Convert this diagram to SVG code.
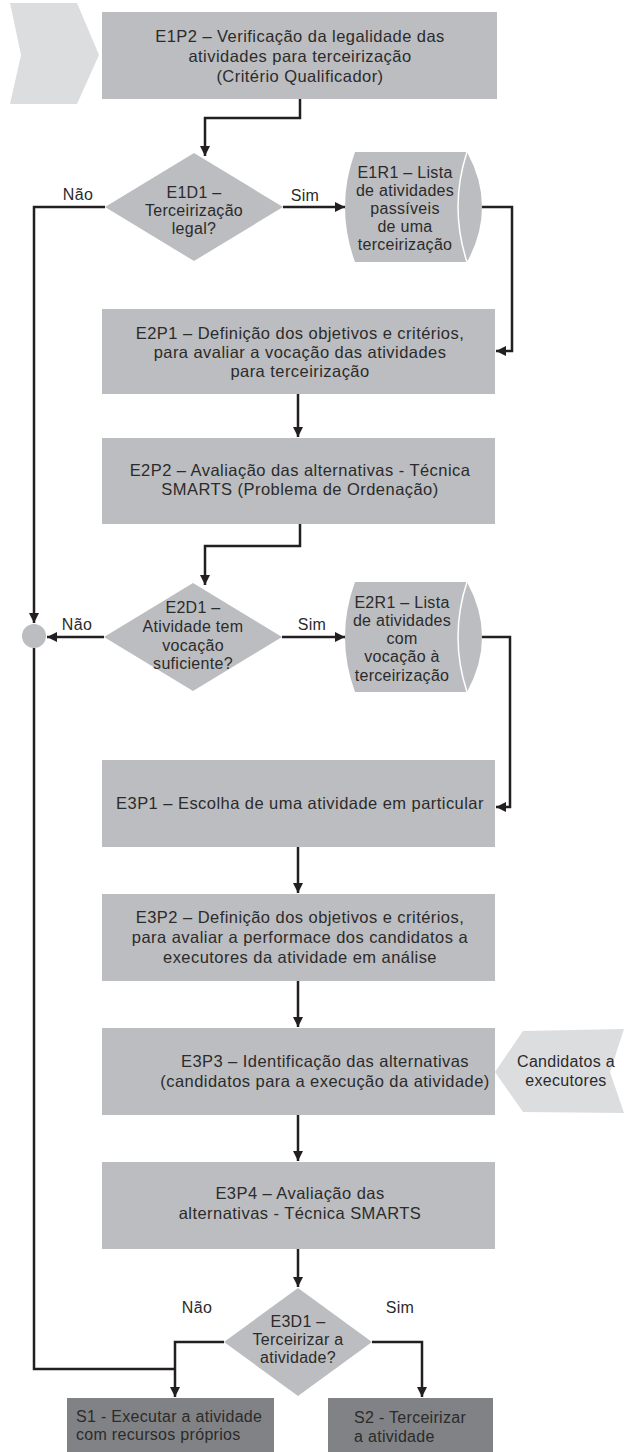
<svg xmlns="http://www.w3.org/2000/svg" width="624" height="1452" viewBox="0 0 624 1452">
<defs>
<style>
.box{fill:#bcbdc0}
.dark{fill:#818285}
.chev{fill:#dcdddf}
.t{font-family:"Liberation Sans",Arial,sans-serif;font-size:16px;fill:#2b2b2b;letter-spacing:0.3px}
.b{font-size:16.5px;letter-spacing:0.45px}
.c{text-anchor:middle}
.ln{fill:none;stroke:#231f20;stroke-width:2.5}
.sep{fill:none;stroke:#ffffff;stroke-width:1.5}
</style>
<marker id="ah" viewBox="0 0 10 10" refX="10" refY="5" markerWidth="4" markerHeight="4" markerUnits="strokeWidth" orient="auto">
<path d="M0,0 L10,5 L0,10 Z" fill="#231f20"/>
</marker>
</defs>
<rect width="624" height="1452" fill="#ffffff"/>

<g id="input-top"><polygon class="chev" points="10,3 77,3 99,55 77,104 10,104 21,55"/></g>

<g id="E1P2"><rect class="box" x="102" y="12" width="395" height="87"/>
<text class="t b c" x="300" y="42">E1P2 – Verificação da legalidade das</text>
<text class="t b c" x="300" y="62">atividades para terceirização</text>
<text class="t b c" x="300" y="82">(Critério Qualificador)</text></g>

<g id="E1D1"><polygon class="box" points="194,153 283,207 194,261 105,207"/>
<text class="t c" x="194" y="198">E1D1 –</text>
<text class="t c" x="194" y="216">Terceirização</text>
<text class="t c" x="194" y="234">legal?</text></g>

<g id="E1R1"><path class="box" d="M355,152 L467,152 Q497,207 467,262 L355,262 Q335,207 355,152 Z"/>
<path class="sep" d="M467,152 Q449,207 467,262"/>
<text class="t c" x="405" y="178">E1R1 – Lista</text>
<text class="t c" x="405" y="196">de atividades</text>
<text class="t c" x="405" y="214">passíveis</text>
<text class="t c" x="405" y="232">de uma</text>
<text class="t c" x="405" y="250">terceirização</text></g>

<g id="E2P1"><rect class="box" x="102" y="309" width="393" height="85"/>
<text class="t b c" x="300" y="339">E2P1 – Definição dos objetivos e critérios,</text>
<text class="t b c" x="300" y="358">para avaliar a vocação das atividades</text>
<text class="t b c" x="300" y="377">para terceirização</text></g>

<g id="E2P2"><rect class="box" x="102" y="438" width="393" height="86"/>
<text class="t b c" x="300" y="476">E2P2 – Avaliação das alternativas - Técnica</text>
<text class="t b c" x="300" y="495">SMARTS (Problema de Ordenação)</text></g>

<g id="E2D1"><polygon class="box" points="193,583 282,637 193,691 104,637"/>
<text class="t c" x="193" y="613">E2D1 –</text>
<text class="t c" x="193" y="632">Atividade tem</text>
<text class="t c" x="193" y="651">vocação</text>
<text class="t c" x="193" y="669">suficiente?</text></g>

<g id="merge"><circle class="box" cx="34" cy="636" r="12"/></g>

<g id="E2R1"><path class="box" d="M355,582 L467,582 Q497,637 467,692 L355,692 Q335,637 355,582 Z"/>
<path class="sep" d="M467,582 Q449,637 467,692"/>
<text class="t c" x="402" y="608">E2R1 – Lista</text>
<text class="t c" x="402" y="626">de atividades</text>
<text class="t c" x="402" y="644">com</text>
<text class="t c" x="402" y="662">vocação à</text>
<text class="t c" x="402" y="681">terceirização</text></g>

<g id="E3P1"><rect class="box" x="102" y="760" width="393" height="87"/>
<text class="t b c" x="300" y="809">E3P1 – Escolha de uma atividade em particular</text></g>

<g id="E3P2"><rect class="box" x="102" y="894" width="393" height="87"/>
<text class="t b c" x="300" y="923">E3P2 – Definição dos objetivos e critérios,</text>
<text class="t b c" x="300" y="943">para avaliar a performace dos candidatos a</text>
<text class="t b c" x="300" y="963">executores da atividade em análise</text></g>

<g id="E3P3"><rect class="box" x="102" y="1028" width="393" height="87"/>
<text class="t b c" x="325" y="1067">E3P3 – Identificação das alternativas</text>
<text class="t b c" x="325" y="1087">(candidatos para a execução da atividade)</text></g>

<g id="input-candidatos"><polygon class="chev" points="495,1072 523,1031 624,1029 610,1072 624,1113 523,1112"/>
<text class="t c" x="566" y="1067">Candidatos a</text>
<text class="t c" x="566" y="1086">executores</text></g>

<g id="E3P4"><rect class="box" x="102" y="1162" width="393" height="87"/>
<text class="t b c" x="300" y="1199">E3P4 – Avaliação das</text>
<text class="t b c" x="300" y="1219">alternativas - Técnica SMARTS</text></g>

<g id="E3D1"><polygon class="box" points="298,1288 372,1342 298,1396 224,1342"/>
<text class="t c" x="298" y="1327">E3D1 –</text>
<text class="t c" x="298" y="1345">Terceirizar a</text>
<text class="t c" x="298" y="1363">atividade?</text></g>

<g id="S1"><rect class="dark" x="67" y="1398" width="207" height="54"/>
<text class="t" x="76" y="1422">S1 - Executar a atividade</text>
<text class="t" x="76" y="1440">com recursos próprios</text></g>

<g id="S2"><rect class="dark" x="328" y="1398" width="165" height="54"/>
<text class="t" x="354" y="1423">S2 - Terceirizar</text>
<text class="t" x="354" y="1442">a atividade</text></g>

<g id="connectors">
<path class="ln" marker-end="url(#ah)" d="M300,99 V118 H205 V156"/>
<path class="ln" marker-end="url(#ah)" d="M283,207 H345"/>
<path class="ln" marker-end="url(#ah)" d="M105,207 H34 V623"/>
<path class="ln" marker-end="url(#ah)" d="M482,207 H512 V351 H496"/>
<path class="ln" marker-end="url(#ah)" d="M298,394 V437"/>
<path class="ln" marker-end="url(#ah)" d="M300,524 V546 H205 V585"/>
<path class="ln" marker-end="url(#ah)" d="M104,637 H47"/>
<path class="ln" marker-end="url(#ah)" d="M282,637 H345"/>
<path class="ln" marker-end="url(#ah)" d="M482,637 H510 V807 H496"/>
<path class="ln" marker-end="url(#ah)" d="M298,847 V893"/>
<path class="ln" marker-end="url(#ah)" d="M298,981 V1027"/>
<path class="ln" marker-end="url(#ah)" d="M298,1115 V1161"/>
<path class="ln" marker-end="url(#ah)" d="M298,1249 V1287"/>
<path class="ln" d="M34,648 V1369 H175"/>
<path class="ln" marker-end="url(#ah)" d="M224,1342 H175 V1397"/>
<path class="ln" marker-end="url(#ah)" d="M372,1342 H422 V1397"/>
</g>
<g id="labels">
<text class="t c" x="78" y="200">Não</text>
<text class="t c" x="305" y="201">Sim</text>
<text class="t c" x="77" y="630">Não</text>
<text class="t c" x="312" y="630">Sim</text>
<text class="t c" x="197" y="1313">Não</text>
<text class="t c" x="400" y="1313">Sim</text>
</g>
</svg>
